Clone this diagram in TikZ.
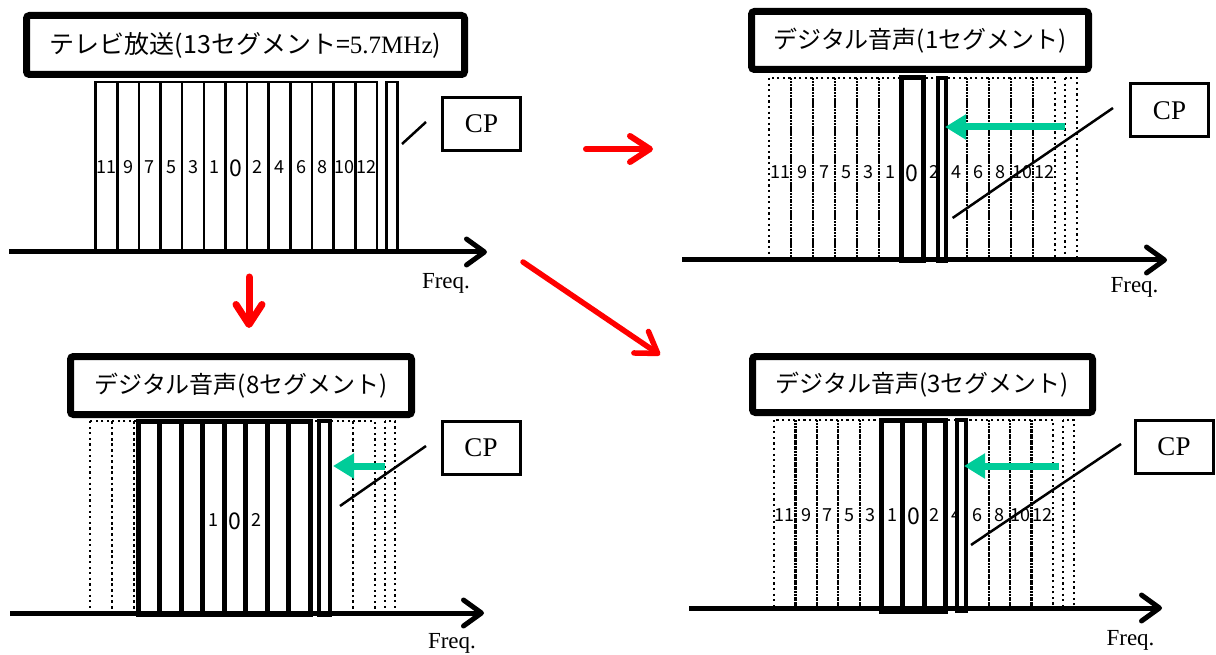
\documentclass[tikz,border=0pt]{standalone}
\usepackage{fontspec}
\setmainfont{Liberation Serif}
\newfontfamily\jp{Noto Sans CJK JP}
\usetikzlibrary{arrows.meta}
\definecolor{cpgreen}{RGB}{0,204,153}
\tikzset{
  titlebox/.style={draw, line width=7pt, rounded corners=3pt, fill=white, inner sep=0pt, font=\jp\fontsize{24}{28}\selectfont},
  cpbox/.style={draw, line width=3pt, minimum width=78pt, minimum height=53pt, inner sep=0pt, font=\fontsize{27}{30}\selectfont},
  freqlbl/.style={font=\fontsize{23}{26}\selectfont, inner sep=0pt},
  seglbl/.style={font=\jp\fontsize{18}{20}\selectfont, inner sep=0pt},
  zerolbl/.style={font=\jp\fontsize{23}{26}\selectfont, inner sep=0pt},
  thinseg/.style={draw, line width=2.5pt},
  dotseg/.style={draw, line width=2.2pt, dash pattern=on 2.2pt off 3.4pt},
  thickseg/.style={draw, line width=5pt, fill=white},
  thickcp/.style={draw, line width=4pt, fill=white},
  axisline/.style={line width=5pt, -{Straight Barb[length=18pt,width=26pt,round]}},
  redarrow/.style={draw=red, line width=6pt, line cap=round, -{Straight Barb[length=20pt,width=26pt,round]}},
  greenarrow/.style={draw=cpgreen, line width=7pt, -{Triangle[length=21pt,width=24pt]}},
  cpline/.style={line width=2.5pt},
}
\begin{document}
\begin{tikzpicture}[x=1pt,y=-1pt]
\useasboundingbox (0,0) rectangle (1216,655);

% ================= Panel 1 =================
\foreach \k in {0,...,12}
  \draw[thinseg] ({95.7+\k*21.63},82) rectangle ({95.7+(\k+1)*21.63},252);
\draw[thinseg] (386.5,82) rectangle (397.5,252);
\foreach \lab/\k in {11/0,9/1,7/2,5/3,3/4,1/5,2/7,4/8,6/9,8/10,10/11,12/12}
  \node[seglbl] (pa\k) at ({95.7+(\k+0.5)*21.63},167) {\lab};
\node[zerolbl] (pa6) at ({95.7+6.5*21.63},168) {0};
\coordinate (a1s) at (9,252);
\coordinate (a1e) at (487,252);
\draw[axisline] (a1s) -- (a1e);
\node[titlebox, minimum width=438pt, minimum height=59pt, font=\jp\fontsize{25}{28}\selectfont] (t1) at (245.5,45)
  {テレビ放送(13セグメント={\rmfamily 5.7MHz})};
\node[cpbox] (cp1) at (481.5,124) {CP};
\coordinate (l1a) at (402,144);
\coordinate (l1b) at (426,122);
\draw[cpline] (l1a) -- (l1b);
\node[freqlbl] (f1) at (446,283) {Freq.};

% ================= Panel 2 =================
\foreach \k in {0,...,12}
  \draw[dotseg] ({769+\k*22},78) rectangle ({769+(\k+1)*22},260);
\draw[dotseg] (1065,78) rectangle (1077,260);
\draw[thickseg] (901,78) rectangle (923,261);
\foreach \lab/\k in {11/0,9/1,7/2,5/3,3/4,1/5,2/7,4/8,6/9,8/10,10/11,12/12}
  \node[seglbl] (pb\k) at ({769+(\k+0.5)*22},172) {\lab};
\node[zerolbl] (pb6) at ({769+6.5*22},173) {0};
\draw[thickcp] (937.5,78) rectangle (945.5,261);
\coordinate (a2s) at (682,260);
\coordinate (a2e) at (1167,260);
\draw[axisline] (a2s) -- (a2e);
\node[titlebox, minimum width=337pt, minimum height=58pt] (t2) at (920,40.5)
  {デジタル音声(1セグメント)};
\node[cpbox] (cp2) at (1169.5,110.5) {CP};
\coordinate (g2s) at (1065,127);
\coordinate (g2e) at (945,127);
\draw[greenarrow] (g2s) -- (g2e);
\coordinate (l2a) at (952.6,218);
\coordinate (l2b) at (1113,108);
\draw[cpline] (l2a) -- (l2b);
\node[freqlbl] (f2) at (1134.5,287) {Freq.};

% ================= Panel 3 =================
\foreach \k in {0,...,12}
  \draw[dotseg] ({90+\k*21.9},421) rectangle ({90+(\k+1)*21.9},613);
\draw[dotseg] (385,421) rectangle (395,613);
\foreach \k in {0,...,7}
  \draw[thickseg] ({138+\k*21.5},421) rectangle ({138+(\k+1)*21.5},614);
\node[seglbl] (pc1) at (213.5,520) {1};
\node[zerolbl] (pc0) at (235,521) {0};
\node[seglbl] (pc2) at (256.5,520) {2};
\draw[thickcp] (319.3,421) rectangle (329.7,615);
\coordinate (a3s) at (10,613);
\coordinate (a3e) at (484,613);
\draw[axisline] (a3s) -- (a3e);
\node[titlebox, minimum width=341pt, minimum height=58pt] (t3) at (241,385.5)
  {デジタル音声(8セグメント)};
\node[cpbox] (cp3) at (481,448) {CP};
\coordinate (g3s) at (385,466);
\coordinate (g3e) at (333,466);
\draw[greenarrow] (g3s) -- (g3e);
\coordinate (l3a) at (340,506);
\coordinate (l3b) at (426,446);
\draw[cpline] (l3a) -- (l3b);
\node[freqlbl] (f3) at (452,643) {Freq.};

% ================= Panel 4 =================
\foreach \k in {0,...,12}
  \draw[dotseg] ({774+\k*21.46},420) rectangle ({774+(\k+1)*21.46},608);
\draw[dotseg] (1063,420) rectangle (1074,608);
\foreach \k in {5,6,7}
  \draw[thickseg] ({774+\k*21.46},420) rectangle ({774+(\k+1)*21.46},611);
\foreach \lab/\k in {11/0,9/1,7/2,5/3,3/4,1/5,2/7,4/8,6/9,8/10,10/11,12/12}
  \node[seglbl] (pd\k) at ({774+(\k+0.5)*21.46},515) {\lab};
\node[zerolbl] (pd6) at ({774+6.5*21.46},516) {0};
\draw[thickcp] (957.4,420) rectangle (965.8,611);
\coordinate (a4s) at (689,608);
\coordinate (a4e) at (1162,608);
\draw[axisline] (a4s) -- (a4e);
\node[titlebox, minimum width=340pt, minimum height=56pt] (t4) at (922.5,384.5)
  {デジタル音声(3セグメント)};
\node[cpbox] (cp4) at (1174,446.5) {CP};
\coordinate (g4s) at (1059,466);
\coordinate (g4e) at (964,466);
\draw[greenarrow] (g4s) -- (g4e);
\coordinate (l4a) at (971,545);
\coordinate (l4b) at (1121,444);
\draw[cpline] (l4a) -- (l4b);
\node[freqlbl] (f4) at (1130.5,640) {Freq.};

% ================= Red arrows =================
\coordinate (r1s) at (249,277);
\coordinate (r1e) at (249,328);
\draw[redarrow, line width=7pt] (r1s) -- (r1e);
\coordinate (r2s) at (586,149);
\coordinate (r2e) at (653,149);
\draw[redarrow] (r2s) -- (r2e);
\coordinate (r3s) at (523,262);
\coordinate (r3e) at (660,355);
\draw[redarrow, line width=5.5pt] (r3s) -- (r3e);
\end{tikzpicture}
\end{document}
